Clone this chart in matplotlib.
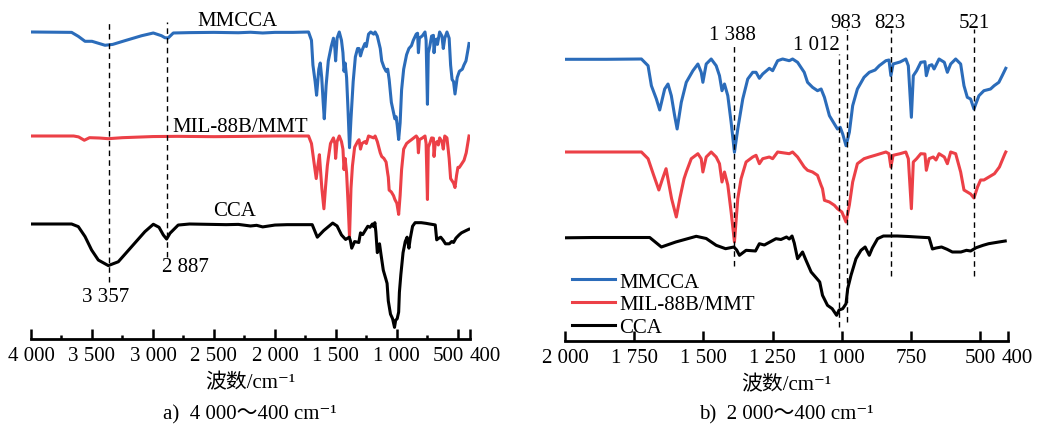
import numpy as np
import matplotlib
matplotlib.use("Agg")
import matplotlib.pyplot as plt
from matplotlib.transforms import ScaledTranslation

plt.rcParams['font.family'] = ['Liberation Serif', 'Noto Sans CJK SC', 'DejaVu Serif']

# 光谱数据 (波数 cm-1, 相对透过率, 基线=100)
mmcca_wn = [3990, 3667, 3612, 3557, 3500, 3393, 3330, 3230, 3093, 2997, 2930, 2902, 2875, 2833,
            2700, 2500, 2300, 2200, 2100, 2000, 1850, 1724, 1700, 1688, 1670, 1658, 1640, 1628,
            1616, 1604, 1595, 1580, 1562, 1538, 1520, 1508, 1502, 1490, 1472, 1454, 1442, 1433,
            1424, 1412, 1400, 1388, 1376, 1358, 1340, 1322, 1310, 1298, 1286, 1262, 1250, 1232,
            1214, 1190, 1178, 1160, 1136, 1124, 1106, 1088, 1075, 1063, 1045, 1027, 1016, 1006,
            997, 985, 973, 961, 944, 920, 901, 880, 865, 841, 830, 823, 815, 790, 769, 760, 749,
            742, 730, 715, 700, 695, 685, 675, 667, 649, 630, 619, 607, 589, 571, 559, 547, 535,
            523, 505, 487, 463, 450, 433, 421, 408]
mmcca_t = [100, 99.7, 96.5, 92.5, 92.5, 89.3, 90, 93, 97, 99.2, 97, 95.4, 95.2, 99.2,
           99.5, 99.7, 99.4, 99.8, 99.2, 99.7, 99.7, 100, 93.3, 73.3, 60, 49, 70, 75,
           63.3, 43.3, 30, 56.7, 76.7, 88.3, 95, 86.7, 76.7, 95, 100, 93.3, 83.3, 68.3,
           75, 63.3, 36.7, 6.7, 30, 60, 80, 86.7, 86.7, 80.7, 85, 90.7, 88.3, 98.3,
           100, 98.3, 100, 96.7, 86.7, 76.7, 71.7, 68.3, 70, 61.7, 43.3, 35, 30, 31.7,
           25, 13.3, 26.7, 53.3, 70, 81.7, 86.7, 89, 93.3, 98.3, 99, 83.3, 95, 97, 100, 93.3, 41.7,
           83.3, 88.3, 96.7, 97.3, 83.3, 93.3, 94.3, 90, 100, 96.7, 86.7, 95, 100, 95, 73.3, 61.7, 60,
           50, 63.3, 68.3, 70, 73.3, 76.7, 83.3, 90.7]

mil_wn = [3990, 3650, 3610, 3563, 3520, 3440, 3366, 3250, 3000, 2800, 2500, 2200, 2000, 1724,
          1700, 1680, 1661, 1648, 1635, 1615, 1598, 1585, 1570, 1562, 1544, 1520, 1508, 1502,
          1490, 1472, 1454, 1442, 1433, 1424, 1412, 1400, 1388, 1376, 1364, 1346, 1322, 1310,
          1298, 1286, 1262, 1250, 1232, 1190, 1178, 1160, 1136, 1124, 1106, 1088, 1075, 1070,
          1063, 1045, 1027, 1016, 1000, 985, 973, 961, 944, 920, 901, 880, 841, 830, 823, 815,
          790, 769, 760, 749, 742, 730, 715, 700, 695, 685, 670, 660, 649, 630, 619, 607, 589,
          571, 559, 547, 535, 523, 510, 499, 487, 449, 431, 411, 408]
mil_t = [100, 100, 99.2, 96.2, 98.5, 98.2, 97.6, 98.5, 99.5, 99.7, 99.4, 99.7, 100, 100,
         93.3, 77, 62, 73, 83.3, 53.3, 35, 54, 73.3, 80, 93.3, 98.3, 93.3, 80,
         95, 100, 95, 88.3, 70, 80, 67, 40, 10, 53.3, 73.3, 90, 95, 96.7,
         88.3, 93.3, 95, 93.3, 100, 98.3, 100, 95, 85, 81.7, 80, 76.7, 66.7, 63.3,
         51.7, 50, 46.7, 43.3, 40, 30, 47, 70, 88.3, 93.3, 95, 96.7, 100, 98.3, 85, 96.7,
         98.3, 100, 93.3, 43.3, 90, 93.3, 98.3, 98, 81.7, 93.3, 95, 92, 98.3, 95, 88.3, 100, 98.3,
         80, 62, 60, 58, 54, 65, 72, 72, 78.3, 85, 98.3, 100]

cca_wn = [3990, 3667, 3612, 3557, 3503, 3448, 3366, 3284, 3175, 3066, 2997, 2950, 2915, 2888,
          2860, 2793, 2700, 2400, 2300, 2200, 2150, 2100, 2050, 2000, 1900, 1694, 1652, 1600,
          1526, 1490, 1454, 1420, 1390, 1380, 1370, 1346, 1312, 1298, 1280, 1262, 1238, 1220,
          1200, 1190, 1180, 1172, 1160, 1142, 1130, 1111, 1090, 1080, 1070, 1052, 1035, 1019,
          1010, 997, 985, 979, 967, 949, 931, 916, 901, 890, 871, 850, 800, 760, 730, 685, 673,
          660, 640, 620, 601, 570, 550, 535, 515, 490, 470, 433, 410]
cca_t = [100, 100, 98, 90.5, 80.3, 72.7, 68.5, 71.4, 82.8, 94.2, 99.8, 97.5, 91.7, 88.6,
         93, 99.2, 100, 99.5, 99.7, 98.5, 99, 97.8, 98.5, 99.2, 99.5, 99.5, 90, 95,
         100.7, 98.5, 91.7, 88.3, 90, 87, 81.7, 86.7, 86, 93.3, 92, 94.7, 98.3, 97.5,
         100, 98, 101, 94, 78.3, 85, 77, 65, 58.3, 55, 41.7, 31.7, 28.3, 21.7,
         27, 28.3, 33.3, 48.3, 61.7, 78.3, 86.7, 90, 81.7, 89, 98.3, 101, 101, 100.5, 100, 99.3, 88,
         89, 90, 87.7, 85, 85, 86.7, 86, 89.3, 91.7, 93.3, 95, 96]

peaks_a = [3357, 2887]
peaks_b = [1388, 1012, 983, 823, 521]

series = [
    ("MMCCA", mmcca_wn, mmcca_t, "#2b6cba"),
    ("MIL-88B/MMT", mil_wn, mil_t, "#ec4047"),
    ("CCA", cca_wn, cca_t, "black"),
]

fig = plt.figure(figsize=(10.39, 4.27), dpi=100)
ax1 = fig.add_axes([31/1039, 1-340/427, 439/1039, 330/427])
ax2 = fig.add_axes([565/1039, 1-342/427, 443/1039, 330/427])

# 垂直偏移和缩放 (每个面板)
base_a = [307, 203, 115]
scale_a = [1.24, 1.12, 1.32]
base_b = [282, 189, 104]

for i, (name, wn, t, c) in enumerate(series):
    wn = np.array(wn)
    t = np.array(t)
    ax1.plot(wn, base_a[i] - scale_a[i]*(100 - t), color=c, lw=2.2)
    m = wn <= 2000
    ax2.plot(wn[m], base_b[i] - (100 - t[m]), color=c, lw=2.2, label=name)

for ax in (ax1, ax2):
    ax.set_ylim(0, 330)
    for s in ('left', 'right', 'top'):
        ax.spines[s].set_visible(False)
    ax.spines['bottom'].set_linewidth(2)
    ax.set_yticks([])
    ax.tick_params(axis='x', direction='in', length=7, width=1.8, labelsize=15, pad=5)
    ax.tick_params(axis='x', which='minor', direction='in', length=3, width=1.8)
    ax.set_xlabel('波数/cm⁻¹', fontsize=15, labelpad=6)

ax1.set_xlim(4000, 400)
ax1.set_xticks([4000, 3500, 3000, 2500, 2000, 1500, 1000, 500, 400])
ax1.set_xticklabels(['4 000', '3 500', '3 000', '2 500', '2 000', '1 500', '1 000', '500', '400'])
ax1.set_xticks([3750, 3250, 2750, 2250, 1750, 1250, 750], minor=True)

ax2.set_xlim(2000, 400)
ax2.set_xticks([2000, 1750, 1500, 1250, 1000, 750, 500, 400])
ax2.set_xticklabels(['2 000', '1 750', '1 500', '1 250', '1 000', '750', '500', '400'])

# 末端两个刻度标签错开
def shift(lbl, dx):
    lbl.set_transform(lbl.get_transform() + ScaledTranslation(dx/100, 0, fig.dpi_scale_trans))

fig.canvas.draw()
labs1 = ax1.get_xticklabels()
shift(labs1[-2], -9)
shift(labs1[-1], 15)
labs2 = ax2.get_xticklabels()
shift(labs2[-1], 9)

dash = (0, (4, 3))
# 面板 a 标注
ax1.vlines(peaks_a[0], 57, 317, colors='black', linestyles=dash, lw=1)
ax1.vlines(peaks_a[1], 82, 317, colors='black', linestyles=dash, lw=1)
ax1.text(peaks_a[0] + 30, 42, '3 357', ha='center', va='center', fontsize=15)
ax1.text(peaks_a[1] - 150, 72, '2 887', ha='center', va='center', fontsize=15)
ax1.text(2311, 318, 'MMCCA', ha='center', va='center', fontsize=15)
ax1.text(2287, 213, 'MIL-88B/MMT', ha='center', va='center', fontsize=15)
ax1.text(2328, 128, 'CCA', ha='center', va='center', fontsize=15)

# 面板 b 标注
ax2.vlines(peaks_b[0], 75, 297, colors='black', linestyles=dash, lw=1)
ax2.vlines(peaks_b[1], 14, 287, colors='black', linestyles=dash, lw=1)
ax2.vlines(peaks_b[2], 19, 312, colors='black', linestyles=dash, lw=1)
ax2.vlines(peaks_b[3], 65, 312, colors='black', linestyles=dash, lw=1)
ax2.vlines(peaks_b[4], 65, 312, colors='black', linestyles=dash, lw=1)
ax2.text(1395, 306, '1 388', ha='center', va='center', fontsize=15)
ax2.text(1008, 297, '1 012', ha='right', va='center', fontsize=15)
ax2.text(984, 319, '983', ha='center', va='center', fontsize=15)
ax2.text(826, 319, '823', ha='center', va='center', fontsize=15)
ax2.text(523, 319, '521', ha='center', va='center', fontsize=15)

ax2.legend(loc='lower left', bbox_to_anchor=(0.015, 0.012), frameon=False, fontsize=15,
           handlelength=2.1, handletextpad=0.2, labelspacing=0.15, borderaxespad=0, borderpad=0)

fig.text(250/1039, 1-415/427, 'a)  4 000～400 cm⁻¹', ha='center', va='center', fontsize=15)
fig.text(786/1039, 1-415/427, 'b)  2 000～400 cm⁻¹', ha='center', va='center', fontsize=15)

fig.savefig('out.png', dpi=100)
